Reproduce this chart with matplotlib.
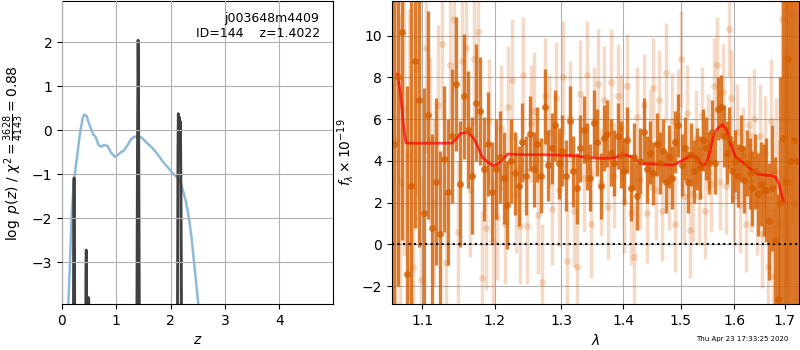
import numpy as np
import matplotlib
matplotlib.use("Agg")
import matplotlib.pyplot as plt
from matplotlib.ticker import FixedLocator, NullLocator

# ---------------- left panel data ----------------
prior_z = [0.10, 0.117, 0.15, 0.18, 0.22, 0.27, 0.33, 0.38, 0.41, 0.45, 0.50, 0.55, 0.58,
           0.62, 0.67, 0.72, 0.78, 0.84, 0.90, 0.97, 1.02, 1.08, 1.13, 1.20, 1.26, 1.32,
           1.40, 1.47, 1.55, 1.62, 1.70, 1.78, 1.86, 1.94, 2.02, 2.10, 2.17, 2.23, 2.28,
           2.33, 2.38, 2.43, 2.48, 2.52]
prior_logp = [-4.5, -3.95, -2.9, -1.89, -1.15, -0.67, -0.07, 0.28, 0.36, 0.33, 0.15, -0.02,
              -0.1, -0.15, -0.33, -0.37, -0.33, -0.36, -0.5, -0.6, -0.57, -0.5, -0.47, -0.35,
              -0.22, -0.15, -0.13, -0.17, -0.27, -0.35, -0.45, -0.58, -0.72, -0.83, -0.95,
              -1.05, -1.15, -1.38, -1.62, -1.95, -2.4, -3.0, -3.6, -4.1]

pz_z = [0.00, 0.200, 0.215, 0.222, 0.229, 0.245,
        0.425, 0.440, 0.446, 0.452, 0.465, 0.480, 0.488, 0.495, 0.505,
        1.360, 1.390, 1.400, 1.410, 1.440,
        2.110, 2.133, 2.140, 2.150, 2.160, 2.170, 2.180, 2.190, 2.220, 5.0]
pz_logp = [-10, -10, -1.5, -1.08, -1.5, -10,
           -10, -3.0, -2.72, -3.0, -10, -10, -3.8, -3.9, -10,
           -10, 0.0, 2.05, 0.5, -10,
           -10, -0.5, 0.38, 0.0, 0.30, -0.2, 0.20, -1.5, -10, -10]

chi2_num, chi2_dof, chi2_red = 3628, 4143, 0.88
obj_name, obj_id, obj_z = "j003648m4409", 144, 1.4022

# ---------------- right panel data ----------------
wave_a = np.linspace(1.063, 1.724, 120)
flux_a = [4.8, 8.0, 10.2, -1.4, 2.8, 8.8, 6.9, 1.5, 6.2, 0.8,
          3.0, 0.5, 4.1, 2.5, 5.2, 7.7, 2.9, 7.1, 5.5, 3.3,
          6.8, 6.4, 3.6, 4.8, 2.5, 3.6, 4.2, 3.2, 1.9, 4.0,
          3.4, 2.8, 4.9, 3.3, 5.3, 3.6, 4.8, 3.3, 6.6, 3.8,
          4.6, 5.7, 3.9, 4.5, 3.3, 5.9, 3.5, 2.7, 4.6, 5.5,
          4.2, 3.2, 5.8, 4.9, 2.8, 5.1, 5.3, 4.4, 3.9, 5.2,
          4.3, 3.5, 5.0, 2.7, 4.2, 2.3, 4.0, 5.4, 3.6, 4.4,
          3.4, 4.8, 3.9, 4.5, 3.0, 4.2, 3.2, 4.9, 5.7, 3.8,
          4.6, 3.0, 4.3, 3.5, 4.1, 3.7, 5.0, 4.6, 3.9, 5.4,
          3.9, 6.5, 6.6, 5.2, 4.4, 5.1, 3.5, 4.0, 3.3, 4.6,
          3.1, 3.9, 3.4, 2.7, 3.5, 2.4, 2.9, 2.6, 2.6, 1.1,
          2.7, 0.2, -2.6, 2.0, 5.1, 3.0, 8.9, 4.0, 5.0, 4.0]
err_a = [10, 10, 10, 9, 9, 8, 7, 6, 5, 4.5,
         4, 4, 3.5, 3.5, 3.2, 3.2, 3, 3, 2.8, 2.8,
         2.8, 2.6, 2.5, 2.5, 2.4, 2.4, 2.2, 2.2, 2.1, 2.0,
         2.0, 1.9, 1.9, 1.9, 1.8, 1.8, 1.8, 1.8, 1.8, 1.7,
         1.7, 1.7, 1.7, 1.7, 1.7, 1.7, 1.7, 1.7, 1.6, 1.6,
         1.6, 1.6, 1.6, 1.6, 1.6, 1.6, 1.6, 1.6, 1.6, 1.6,
         1.6, 1.6, 1.6, 1.6, 1.6, 1.6, 1.6, 1.6, 1.6, 1.5,
         1.5, 1.5, 1.5, 1.5, 1.5, 1.5, 1.5, 1.5, 1.5, 1.5,
         1.5, 1.5, 1.5, 1.5, 1.5, 1.5, 1.5, 1.5, 1.5, 1.5,
         1.5, 1.5, 1.5, 1.5, 1.5, 1.5, 1.5, 1.5, 1.5, 1.6,
         1.6, 1.6, 1.7, 1.8, 1.8, 2.0, 2.0, 2.2, 2.5, 2.8,
         3.0, 4, 5, 6, 8, 10, 12, 12, 12, 12]

wave_b = np.linspace(1.066, 1.721, 120)
flux_b = [5.0, 3.0, 6.5, 4.3, -1.1, 8.4, -1.7, 9.4, 5.0, 2.0,
          6.7, 9.6, -0.9, 8.6, 10.8, 0.6, 8.8, 9.4, 2.6, 8.9,
          10.2, -1.6, 0.8, 5.9, 0.1, 1.3, 5.6, 1.0, 6.6, 7.9,
          2.4, 0.9, 8.1, 0.9, 5.8, 6.4, 1.4, -1.8, 7.1, 5.4,
          1.7, 7.0, 2.6, 8.0, -0.8, 6.1, 1.6, -1.1, 7.2, 3.2,
          8.1, 1.0, 5.9, 7.7, 3.0, 6.9, 1.8, 7.8, 3.3, 7.1,
          5.6, 2.1, 7.6, 1.5, -0.6, 6.1, 3.1, 6.7, 1.5, 5.0,
          7.5, 2.6, 6.9, 1.6, 8.2, 3.1, 5.9, 1.0, 6.1, 8.9,
          2.3, 6.3, 0.7, 2.4, 5.1, 2.3, 6.2, 1.6, 4.9, 2.9,
          7.6, 8.6, 3.0, 7.3, 2.8, 10.3, 7.0, 2.3, 5.4, 1.9,
          4.3, 1.0, 5.7, 3.0, 6.0, 2.0, 5.2, 0.5, 4.4, -1.1,
          5.9, -1.5, 3.5, 1.0, 10.8, 3.2, 6.0, 3.0, 11.0, 2.0]
err_b = [8, 8, 7, 7, 6, 6, 5, 5, 4, 4,
         3.8, 3.6, 3.5, 3.5, 3.5, 3.4, 3.3, 3.3, 3.2, 3.2,
         3.2, 3.2, 3.0, 3.0, 3.0, 3.0, 3.0, 2.9, 2.9, 2.9,
         2.8, 2.8, 2.8, 2.8, 2.8, 2.8, 2.8, 2.8, 2.8, 2.7,
         2.7, 2.7, 2.7, 2.7, 2.7, 2.7, 2.7, 2.7, 2.6, 2.6,
         2.6, 2.6, 2.6, 2.6, 2.6, 2.6, 2.5, 2.5, 2.5, 2.5,
         2.5, 2.5, 2.5, 2.5, 2.5, 2.4, 2.4, 2.4, 2.4, 2.4,
         2.4, 2.4, 2.4, 2.4, 2.4, 2.4, 2.3, 2.3, 2.3, 2.3,
         2.3, 2.3, 2.3, 2.3, 2.3, 2.3, 2.3, 2.3, 2.3, 2.3,
         2.3, 2.3, 2.3, 2.3, 2.3, 2.3, 2.3, 2.3, 2.3, 2.3,
         2.3, 2.3, 2.3, 2.4, 2.4, 2.5, 2.5, 2.6, 2.7, 2.8,
         3.0, 3.2, 3.5, 4, 5, 6, 8, 9, 10, 10]

model_wave = [1.068, 1.072, 1.076, 1.079, 1.085, 1.110, 1.140, 1.146, 1.151, 1.157, 1.163,
              1.170, 1.176, 1.182, 1.190, 1.198, 1.205, 1.212, 1.219, 1.240, 1.270, 1.297,
              1.320, 1.341, 1.365, 1.385, 1.401, 1.415, 1.430, 1.455, 1.487, 1.505, 1.518,
              1.528, 1.539, 1.548, 1.555, 1.561, 1.570, 1.577, 1.585, 1.593, 1.602, 1.619,
              1.632, 1.645, 1.660, 1.673, 1.682, 1.688, 1.693, 1.697]
model_flux = [8.16, 7.2, 5.6, 4.87, 4.85, 4.85, 4.85, 5.05, 5.3, 5.35, 5.35,
              5.1, 4.7, 4.2, 3.95, 3.77, 3.85, 4.1, 4.33, 4.3, 4.3, 4.28,
              4.25, 4.17, 4.12, 4.15, 4.3, 4.2, 3.88, 3.85, 3.8, 4.05, 4.26,
              4.2, 3.77, 3.9, 4.6, 5.3, 5.6, 5.75, 5.5, 4.8, 4.2, 3.88,
              3.6, 3.37, 3.32, 3.3, 3.2, 2.9, 2.4, 2.08]

xticks_r = [1.1, 1.2, 1.3, 1.4, 1.5, 1.6, 1.7]
yticks_r = [-2, 0, 2, 4, 6, 8, 10]
timestamp = "Thu Apr 23 17:33:25 2020"

# ---------------- figure ----------------
fig = plt.figure(figsize=(8, 3.5), dpi=100)
ax1 = fig.add_axes([0.0775, 0.131, 0.339, 0.866])
ax2 = fig.add_axes([0.490, 0.131, 0.509, 0.866])

ax1.plot(prior_z, prior_logp, color='tab:blue', alpha=0.5, lw=1.8)
ax1.fill_between(pz_z, pz_logp, -10, color='0.5', alpha=0.35, lw=0)
ax1.plot(pz_z, pz_logp, color='0.25', lw=2)
ax1.set_xlim(0, 4.99)
ax1.set_ylim(-3.95, 2.94)
ax1.set_xticks([0, 1, 2, 3, 4])
ax1.set_yticks([-3, -2, -1, 0, 1, 2])
ax1.grid(True)
ax1.set_axisbelow(False)
ax1.set_xlabel(r'$z$')
ax1.set_ylabel(r'$\log\ p(z)$' + ' / ' +
               r'$\chi^2=\frac{{{0:d}}}{{{1:d}}}={2:.2f}$'.format(chi2_num, chi2_dof, chi2_red))
ax1.text(0.95, 0.965, '{0}\nID={1}    z={2:.4f}'.format(obj_name, obj_id, obj_z),
         transform=ax1.transAxes, ha='right', va='top', fontsize=9)

gcol = (0.8352941176470589, 0.3686274509803922, 0.0)
ax2.errorbar(wave_b, flux_b, yerr=err_b, color=gcol, marker='o', ms=5, ls='none',
             elinewidth=2.5, alpha=0.22, mec='none')
ax2.errorbar(wave_a, flux_a, yerr=err_a, color=gcol, marker='o', ms=5, ls='none',
             elinewidth=2.4, alpha=0.8, mec='none')
ax2.plot(model_wave, model_flux, color='r', alpha=0.7, lw=2)
ax2.set_xscale('log')
ax2.set_xlim(1.061, 1.7295)
ax2.plot([1.061, 1.7295], [0, 0], color='k', ls=':', lw=1.5)
ax2.set_ylim(-2.86, 11.66)
ax2.xaxis.set_major_locator(FixedLocator(xticks_r))
ax2.xaxis.set_minor_locator(NullLocator())
ax2.set_xticklabels(['{0:.1f}'.format(t) for t in xticks_r])
ax2.set_yticks(yticks_r)
ax2.grid(True)
ax2.set_xlabel(r'$\lambda$')
ax2.set_ylabel(r'$f_\lambda\times10^{-19}$')

fig.text(0.985, 0.031, timestamp, ha='right', va='center', fontsize=5)

fig.savefig('out.png', dpi=100)
